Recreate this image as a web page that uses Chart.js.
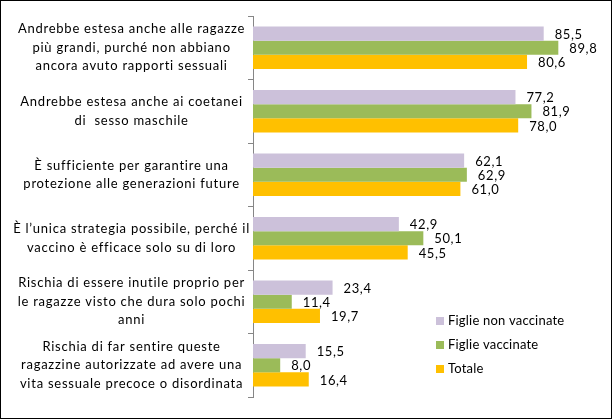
<!DOCTYPE html>
<html>
<head>
<meta charset="utf-8">
<script src="https://cdn.jsdelivr.net/npm/chart.js@4"></script>
<style>
  html, body { margin: 0; padding: 0; background: #fff; }
  .box { width: 612px; height: 419px; box-sizing: border-box; border: 1px solid #000; position: relative; }
  canvas { position: absolute; left: 0; top: 0; }
</style>
</head>
<body>
<div class="box"><canvas id="grafico" width="610" height="417"></canvas></div>
<script>
  const categorie = [
    ["Andrebbe estesa anche alle ragazze", "più grandi, purché non abbiano", "ancora avuto rapporti sessuali"],
    ["Andrebbe estesa anche ai coetanei", "di  sesso maschile"],
    ["È sufficiente per garantire una", "protezione alle generazioni future"],
    ["È l’unica strategia possibile, perché il", "vaccino è efficace solo su di loro"],
    ["Rischia di essere inutile proprio per", "le ragazze visto che dura solo pochi", "anni"],
    ["Rischia di far sentire queste", "ragazzine autorizzate ad avere una", "vita sessuale precoce o disordinata"]
  ];
  const nonVaccinate = [85.5, 77.2, 62.1, 42.9, 23.4, 15.5];
  const vaccinate = [89.8, 81.9, 62.9, 50.1, 11.4, 8.0];
  const totale = [80.6, 78.0, 61.0, 45.5, 19.7, 16.4];
  const nomiSerie = ["Figlie non vaccinate", "Figlie vaccinate", "Totale"];

  const lilla = "#ccc1da";
  const verde = "#9bbb59";
  const giallo = "#ffc000";
  const font = "Lato";

  // etichette dei valori a destra delle barre
  const etichetteValori = {
    id: "etichetteValori",
    afterDatasetsDraw(chart) {
      const ctx = chart.ctx;
      ctx.save();
      ctx.font = "13px " + font;
      ctx.letterSpacing = "0.6px";
      ctx.fillStyle = "#000";
      ctx.textAlign = "left";
      ctx.textBaseline = "middle";
      chart.data.datasets.forEach((ds, i) => {
        chart.getDatasetMeta(i).data.forEach((bar, j) => {
          const testo = ds.data[j].toFixed(1).replace(".", ",");
          ctx.fillText(testo, bar.x + 11, bar.y + 1);
        });
      });
      ctx.restore();
    },
  };

  // legenda dentro l'area del grafico, in basso a destra
  const legendaInterna = {
    id: "legendaInterna",
    afterDraw(chart) {
      const ctx = chart.ctx;
      ctx.save();
      ctx.font = "13px " + font;
      ctx.letterSpacing = "0.2px";
      ctx.textBaseline = "middle";
      chart.data.datasets.forEach((ds, i) => {
        const y = 320 + i * 24;
        ctx.fillStyle = ds.backgroundColor;
        ctx.fillRect(435, y - 4, 8, 8);
        ctx.fillStyle = "#000";
        ctx.fillText(ds.label, 447, y);
      });
      ctx.restore();
    },
  };

  // spaziatura delle lettere per le etichette dell'asse, come nell'originale
  const spaziatura = {
    id: "spaziatura",
    beforeDraw(chart) { chart.ctx.letterSpacing = "0.75px"; },
    beforeDatasetsDraw(chart) { chart.ctx.letterSpacing = "0px"; },
  };

  const ctx = document.getElementById("grafico").getContext("2d");
  new Chart(ctx, {
    type: "bar",
    data: {
      labels: categorie,
      datasets: [
        { label: nomiSerie[0], data: nonVaccinate, backgroundColor: lilla },
        { label: nomiSerie[1], data: vaccinate, backgroundColor: verde },
        { label: nomiSerie[2], data: totale, backgroundColor: giallo },
      ],
    },
    options: {
      indexAxis: "y",
      responsive: false,
      animation: false,
      categoryPercentage: 0.667,
      barPercentage: 1,
      layout: { padding: { top: 15, bottom: 21, right: 18, left: 0 } },
      plugins: {
        legend: { display: false },
        tooltip: { enabled: false },
      },
      scales: {
        x: {
          min: 0,
          max: 100,
          display: false,
        },
        y: {
          afterFit: (scale) => {
            scale.width = 252;
            scale.paddingTop = 0;
            scale.paddingBottom = 0;
          },
          border: { color: "#868686", width: 1 },
          grid: {
            offset: true,
            drawOnChartArea: false,
            tickLength: 5,
            color: "#868686",
          },
          ticks: {
            crossAlign: "center",
            padding: 13,
            color: "#000",
            font: { family: font, size: 13, lineHeight: 1.42 },
          },
        },
      },
    },
    plugins: [spaziatura, etichetteValori, legendaInterna],
  });
</script>
</body>
</html>
